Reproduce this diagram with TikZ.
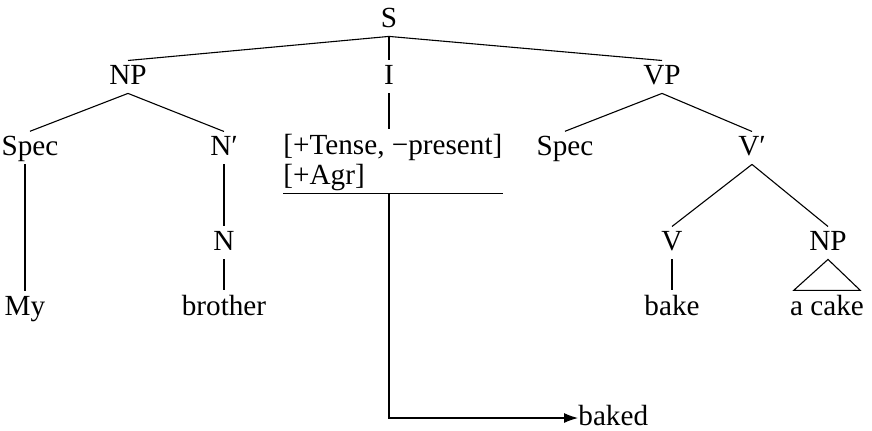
\documentclass[tikz,border=0pt]{standalone}
\usepackage{fontspec}
\setmainfont{Liberation Serif}
\usepackage{tikz}
\usetikzlibrary{positioning,arrows.meta,calc}

\begin{document}
\begin{tikzpicture}[x=0.5pt, y=-0.5pt, >={Latex[length=7pt,width=5pt]}]
  \tikzset{
    cat/.style={inner xsep=0pt,inner ysep=2pt,text depth=.25em,
                anchor=base,font=\fontsize{14.6}{17}\selectfont},
    feat/.style={cat,anchor=base west},
    branch/.style={draw=black,line width=0.55pt}
  }
  \useasboundingbox (0,0) rectangle (872,430);
  % Root and first level
  \node[cat] (S)   at (389,27) {S};
  \node[cat] (NP)  at (128,84) {NP};
  \node[cat] (I)   at (389,84) {I};
  \node[cat] (VP)  at (662,84) {VP};
  % Second level
  \node[cat] (spec1) at (30,155)  {Spec};
  \node[cat] (Nbar)  at (224,155) {N′};
  \node[feat] (tense) at (283,154) {[+Tense, −present]};
  \node[feat] (agr)   at (283,184) {[+Agr]};
  \node[cat] (spec2) at (565,155) {Spec};
  \node[cat] (Vbar)  at (752,155) {V′};
  % Heads
  \node[cat] (N)   at (224,250) {N};
  \node[cat] (V)   at (672,250) {V};
  \node[cat] (NP2) at (828,250) {NP};
  % Words
  \node[cat] (my)      at (25,315)  {My};
  \node[cat] (brother) at (224,315) {brother};
  \node[cat] (bake)    at (672,315) {bake};
  \node[cat] (cake)    at (827,315) {a cake};
  \node[cat,anchor=west] (baked) at (578,418) {baked};
  % Branches
  \draw[branch] (S.south) -- (NP.north);
  \draw[branch] (S.south) -- (I.north);
  \draw[branch] (S.south) -- (VP.north);
  \draw[branch] (NP.south) -- (spec1.north);
  \draw[branch] (NP.south) -- (Nbar.north);
  \draw[branch] (I.south) -- (I.south |- tense.north);
  \draw[branch] (VP.south) -- (spec2.north);
  \draw[branch] (VP.south) -- (Vbar.north);
  \draw[branch] (Vbar.south) -- (V.north);
  \draw[branch] (Vbar.south) -- (NP2.north);
  \draw[branch] (my.north |- spec1.south) -- (my.north);
  \draw[branch] (Nbar.south) -- (N.north);
  \draw[branch] (N.south) -- (brother.north);
  \draw[branch] (V.south) -- (bake.north);
  % Triangle over the NP
  \draw[branch] (NP2.south) -- ([xshift=-2pt]cake.north east)
                -- ([xshift=2pt]cake.north west) -- cycle;
  % Features rule and lowering to the verb
  \draw[branch] (agr.south west) -- (agr.south west -| tense.east);
  \draw[branch,->] (I.south |- agr.south) |- (baked.west);
\end{tikzpicture}
\end{document}
